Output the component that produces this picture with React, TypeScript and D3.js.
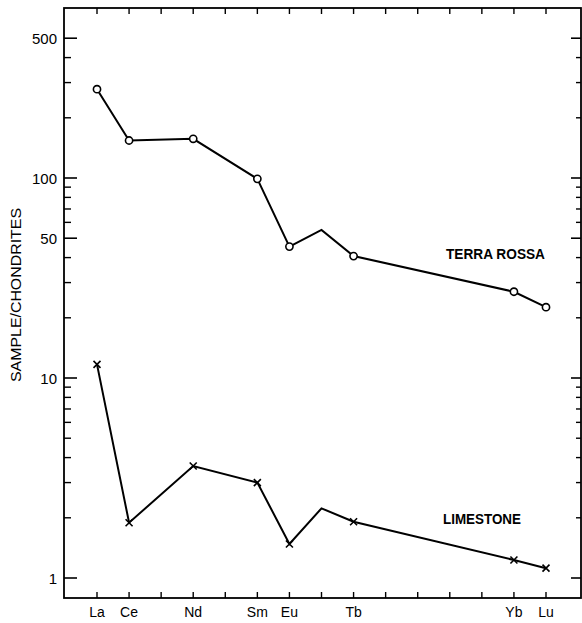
import React from "react";
import * as d3 from "d3";

const elements = ["La", "Ce", "Pr", "Nd", "Pm", "Sm", "Eu", "Gd", "Tb", "Dy", "Ho", "Er", "Tm", "Yb", "Lu"];
const labeledElements = ["La", "Ce", "Nd", "Sm", "Eu", "Tb", "Yb", "Lu"];

const terraRossaElements = ["La", "Ce", "Nd", "Sm", "Eu", "Gd", "Tb", "Yb", "Lu"];
const terraRossaValues = [278, 154, 157, 99, 45.4, 55, 40.7, 27, 22.6];
const terraRossaMarked = [true, true, true, true, true, false, true, true, true];

const limestoneElements = ["La", "Ce", "Nd", "Sm", "Eu", "Gd", "Tb", "Yb", "Lu"];
const limestoneValues = [11.7, 1.89, 3.63, 3.0, 1.48, 2.23, 1.91, 1.23, 1.12];
const limestoneMarked = [true, true, true, true, true, false, true, true, true];

const majorTicks = [1, 10, 50, 100, 500];
const minorTicks = [2, 3, 4, 5, 6, 7, 8, 9, 20, 30, 40, 60, 70, 80, 90, 200, 300, 400];
const tickLabels = ["1", "10", "50", "100", "500"];

const W = 582;
const H = 623;
const left = 64;
const right = 581;
const top = 8;
const bottom = 598;

export default function App() {
  const x = d3.scaleLinear().domain([0, elements.length - 1]).range([97, 546]);
  const y = d3.scaleLog().domain([1, 100]).range([578, 178]);
  const xi = (el: string) => x(elements.indexOf(el));

  const line = d3
    .line<[string, number]>()
    .x((d) => xi(d[0]))
    .y((d) => y(d[1]));

  const trData: [string, number][] = terraRossaElements.map((e, i) => [e, terraRossaValues[i]]);
  const lsData: [string, number][] = limestoneElements.map((e, i) => [e, limestoneValues[i]]);

  const font = "'Liberation Sans', Arial, sans-serif";

  return (
    <svg
      width={W}
      height={H}
      style={{ position: "absolute", left: 0, top: 0, background: "#fff" }}
    >
      <rect x={0} y={0} width={W} height={H} fill="#fff" />
      {/* frame */}
      <rect
        x={left}
        y={top}
        width={right - left}
        height={bottom - top}
        fill="none"
        stroke="#000"
        strokeWidth={1.8}
      />
      {/* left ticks */}
      {majorTicks.map((v) => (
        <line key={"lm" + v} x1={left} x2={left + 13} y1={y(v)} y2={y(v)} stroke="#000" strokeWidth={1.6} />
      ))}
      {minorTicks.map((v) => (
        <line key={"ln" + v} x1={left} x2={left + 7} y1={y(v)} y2={y(v)} stroke="#000" strokeWidth={1.4} />
      ))}
      {/* right ticks */}
      {majorTicks.map((v) => (
        <line key={"rm" + v} x1={right} x2={right - 10} y1={y(v)} y2={y(v)} stroke="#000" strokeWidth={1.6} />
      ))}
      {minorTicks.map((v) => (
        <line key={"rn" + v} x1={right} x2={right - 5} y1={y(v)} y2={y(v)} stroke="#000" strokeWidth={1.4} />
      ))}
      {/* tick labels */}
      {majorTicks.map((v, i) => (
        <text
          key={"tl" + v}
          x={57}
          y={y(v) + 5.5}
          textAnchor="end"
          fontFamily={font}
          fontSize={15}
          fill="#000"
        >
          {tickLabels[i]}
        </text>
      ))}
      {/* x ticks */}
      {elements.map((e, i) => (
        <g key={"xt" + e}>
          <line x1={x(i)} x2={x(i)} y1={bottom} y2={bottom - 6} stroke="#000" strokeWidth={1.4} />
          <line x1={x(i)} x2={x(i)} y1={top} y2={top + 6} stroke="#000" strokeWidth={1.4} />
        </g>
      ))}
      {labeledElements.map((e) => (
        <text
          key={"xl" + e}
          x={xi(e)}
          y={617}
          textAnchor="middle"
          fontFamily={font}
          fontSize={14}
          fill="#000"
        >
          {e}
        </text>
      ))}
      {/* y title */}
      <text
        transform={`translate(21, 295) rotate(-90)`}
        textAnchor="middle"
        fontFamily={font}
        fontSize={14}
        textLength={174}
        lengthAdjust="spacingAndGlyphs"
        fill="#000"
      >
        SAMPLE/CHONDRITES
      </text>
      {/* lines */}
      <path d={line(trData) || ""} fill="none" stroke="#000" strokeWidth={2} />
      <path d={line(lsData) || ""} fill="none" stroke="#000" strokeWidth={2} />
      {trData.map((d, i) =>
        terraRossaMarked[i] ? (
          <circle key={"tc" + i} cx={xi(d[0])} cy={y(d[1])} r={3.6} fill="#fff" stroke="#000" strokeWidth={1.6} />
        ) : null
      )}
      {lsData.map((d, i) =>
        limestoneMarked[i] ? (
          <path
            key={"lx" + i}
            d={`M${xi(d[0]) - 3.5},${y(d[1]) - 3.5}L${xi(d[0]) + 3.5},${y(d[1]) + 3.5}M${xi(d[0]) - 3.5},${y(d[1]) + 3.5}L${xi(d[0]) + 3.5},${y(d[1]) - 3.5}`}
            stroke="#000"
            strokeWidth={1.6}
          />
        ) : null
      )}
      {/* series labels */}
      <text
        x={446}
        y={259}
        fontFamily={font}
        fontSize={14}
        fontWeight="bold"
        textLength={99}
        lengthAdjust="spacingAndGlyphs"
        fill="#000"
      >
        TERRA ROSSA
      </text>
      <text
        x={443}
        y={524}
        fontFamily={font}
        fontSize={14}
        fontWeight="bold"
        textLength={78}
        lengthAdjust="spacingAndGlyphs"
        fill="#000"
      >
        LIMESTONE
      </text>
    </svg>
  );
}
